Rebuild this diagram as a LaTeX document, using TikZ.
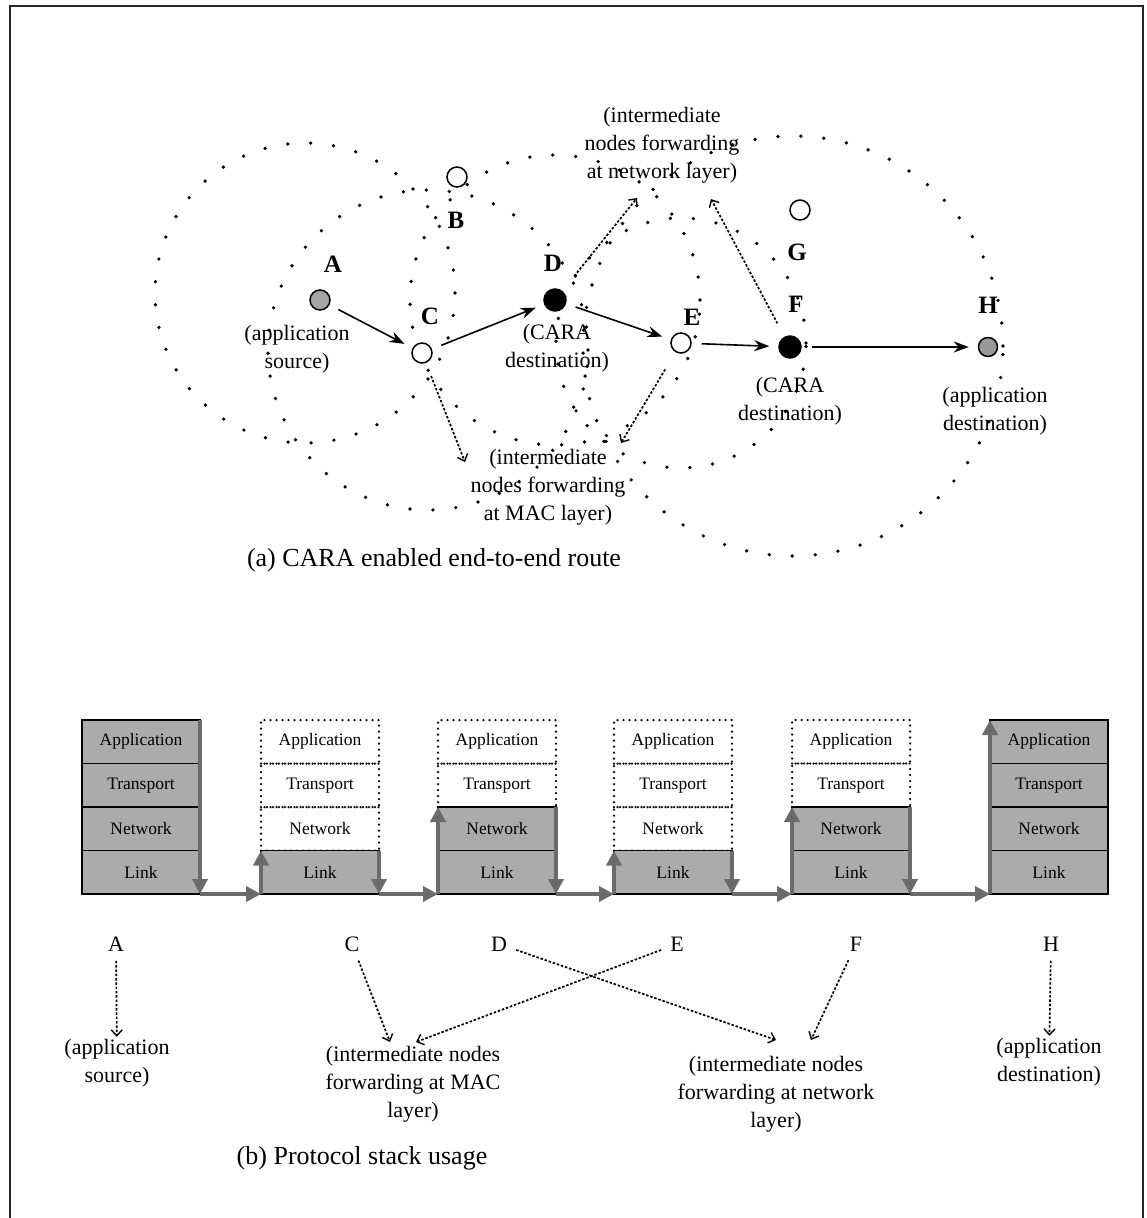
\documentclass[tikz,border=0pt]{standalone}
\usepackage{fontspec}
\setmainfont{Liberation Serif}
\usetikzlibrary{arrows.meta}
\begin{document}
\begin{tikzpicture}[x=1pt,y=-1pt,
  every node/.style={font=\fontsize{22}{28}\selectfont},
  reach/.style={line width=3.7pt, line cap=round, dash pattern=on 0pt off 23pt},
  hostnode/.style={circle, draw=black, line width=1.5pt, minimum size=20pt, inner sep=0pt},
  hosttag/.style={font=\fontsize{25}{28}\selectfont\bfseries},
  notebox/.style={align=center, inner sep=2pt},
  capt/.style={font=\fontsize{26}{30}\selectfont},
  hoparrow/.style={-{Stealth[length=15pt,width=11pt]}, line width=1.6pt, shorten <=10pt, shorten >=9pt},
  hintarrow/.style={-{Straight Barb[length=6pt,width=11pt,line width=1.4pt]}, line width=1.7pt, dash pattern=on 2.5pt off 1.8pt},
  stacklayer/.style={minimum width=118pt, minimum height=43.5pt, inner sep=0pt, outer sep=0pt, anchor=north west, font=\fontsize{17.5}{20}\selectfont},
  usedlayer/.style={stacklayer, draw=black, line width=1.6pt, fill=black!33},
  idlelayer/.style={stacklayer, draw=black, line width=2.5pt, line cap=round, dash pattern=on 0pt off 6pt},
  flowarrow/.style={line width=4pt, draw=black!58, -{Triangle[length=15pt,width=15pt,fill=black!62]}}
]
\useasboundingbox (0,0) rectangle (1146,1218);

% frame
\draw[line width=2.2pt, black!85] (10,1218) -- (10,6) -- (1143,6) -- (1143,1218);

% ---------- (a) radio ranges ----------
\draw[reach] (305,293) circle[radius=150pt];
\draw[reach] (428,350) circle[radius=160pt];
\draw[reach] (555,300) circle[radius=145pt];
\draw[reach] (681,343) circle[radius=125pt];
\draw[reach] (793,346) circle[radius=210pt];

% hosts
\node[hostnode, fill=black!35] (A) at (320,300) {};
\node[hostnode, fill=white] (B) at (457,177) {};
\node[hostnode, fill=white] (C) at (422,353) {};
\node[hostnode, fill=black, minimum size=22pt] (D) at (555,300) {};
\node[hostnode, fill=white] (E) at (681,343) {};
\node[hostnode, fill=black, minimum size=22pt] (F) at (790,347) {};
\node[hostnode, fill=white] (G) at (800,210) {};
\node[hostnode, fill=black!40, minimum size=19pt] (H) at (988,347) {};

% host letters
\node[hosttag] (Atag) at (333,264) {A};
\node[hosttag] (Btag) at (456,220) {B};
\node[hosttag] (Ctag) at (430,316) {C};
\node[hosttag] (Dtag) at (553,263) {D};
\node[hosttag] (Etag) at (692,317) {E};
\node[hosttag] (Ftag) at (796,304) {F};
\node[hosttag] (Gtag) at (797,252) {G};
\node[hosttag] (Htag) at (988,305) {H};

% descriptions
\node[notebox] (srcnote) at (297,349) {(application\\source)};
\node[notebox] (Dnote) at (557,348) {(CARA\\destination)};
\node[notebox] (Fnote) at (790,401) {(CARA\\destination)};
\node[notebox] (Hnote) at (995,411) {(application\\destination)};
\node[notebox] (netnote) at (662,145) {(intermediate\\nodes forwarding\\at network layer)};
\node[notebox] (macnote) at (548,487) {(intermediate\\nodes forwarding\\at MAC layer)};

% route
\draw[hoparrow] (A) -- (C);
\draw[hoparrow] (C) -- (D);
\draw[hoparrow] (D) -- (E);
\draw[hoparrow] (E) -- (F);
\draw[hoparrow] (F) -- (H);

% pointers to the forwarding notes
\coordinate (macL) at (465,462);
\coordinate (macR) at (621,443);
\coordinate (netL) at (637,198);
\coordinate (netR) at (711,199);
\draw[hintarrow, shorten <=14pt] (C) -- (macL);
\draw[hintarrow, shorten <=20pt] (E) -- (macR);
\draw[hintarrow, shorten <=19pt] (D) -- (netL);
\draw[hintarrow, shorten <=15pt] (F) -- (netR);

\node[capt] (capa) at (434,560) {(a) CARA enabled end-to-end route};

% ---------- (b) protocol stacks ----------
% A
\node[usedlayer] (Aapp) at (82,720) {Application};
\node[usedlayer] (Atra) at (82,763.5) {Transport};
\node[usedlayer] (Anet) at (82,807) {Network};
\node[usedlayer] (Alnk) at (82,850.5) {Link};
% C
\node[idlelayer] (Capp) at (261,720) {Application};
\node[idlelayer] (Ctra) at (261,763.5) {Transport};
\node[idlelayer] (Cnet) at (261,807) {Network};
\node[usedlayer] (Clnk) at (261,850.5) {Link};
% D
\node[idlelayer] (Dapp) at (438,720) {Application};
\node[idlelayer] (Dtra) at (438,763.5) {Transport};
\node[usedlayer] (Dnet) at (438,807) {Network};
\node[usedlayer] (Dlnk) at (438,850.5) {Link};
% E
\node[idlelayer] (Eapp) at (614,720) {Application};
\node[idlelayer] (Etra) at (614,763.5) {Transport};
\node[idlelayer] (Enet) at (614,807) {Network};
\node[usedlayer] (Elnk) at (614,850.5) {Link};
% F
\node[idlelayer] (Fapp) at (792,720) {Application};
\node[idlelayer] (Ftra) at (792,763.5) {Transport};
\node[usedlayer] (Fnet) at (792,807) {Network};
\node[usedlayer] (Flnk) at (792,850.5) {Link};
% H
\node[usedlayer] (Happ) at (990,720) {Application};
\node[usedlayer] (Htra) at (990,763.5) {Transport};
\node[usedlayer] (Hnet) at (990,807) {Network};
\node[usedlayer] (Hlnk) at (990,850.5) {Link};

% data path through the stacks
\draw[flowarrow] (Aapp.north east) -- (Alnk.south east);
\draw[flowarrow] (Alnk.south east) -- (Clnk.south west);
\draw[flowarrow] (Clnk.south west) -- (Clnk.north west);
\draw[flowarrow] (Clnk.north east) -- (Clnk.south east);
\draw[flowarrow] (Clnk.south east) -- (Dlnk.south west);
\draw[flowarrow] (Dlnk.south west) -- (Dnet.north west);
\draw[flowarrow] (Dnet.north east) -- (Dlnk.south east);
\draw[flowarrow] (Dlnk.south east) -- (Elnk.south west);
\draw[flowarrow] (Elnk.south west) -- (Elnk.north west);
\draw[flowarrow] (Elnk.north east) -- (Elnk.south east);
\draw[flowarrow] (Elnk.south east) -- (Flnk.south west);
\draw[flowarrow] (Flnk.south west) -- (Fnet.north west);
\draw[flowarrow] (Fnet.north east) -- (Flnk.south east);
\draw[flowarrow] (Flnk.south east) -- (Hlnk.south west);
\draw[flowarrow] (Hlnk.south west) -- (Happ.north west);

% stack names
\node (bA) at (116,944) {A};
\node (bC) at (352,944) {C};
\node (bD) at (499,944) {D};
\node (bE) at (677,944) {E};
\node (bF) at (856,944) {F};
\node (bH) at (1051,944) {H};

\node[notebox] (srcb) at (117,1063) {(application\\source)};
\node[notebox] (macb) at (413,1084) {(intermediate nodes\\forwarding at MAC\\layer)};
\node[notebox] (netb) at (776,1094) {(intermediate nodes\\forwarding at network\\layer)};
\node[notebox] (dstb) at (1049,1062) {(application\\destination)};

\coordinate (macbL) at (390,1042);
\coordinate (macbR) at (416,1042);
\coordinate (netbL) at (776,1040);
\coordinate (netbR) at (811,1040);
\draw[hintarrow, shorten <=6pt] (bA) -- (srcb);
\draw[hintarrow, shorten <=6pt] (bH) -- (dstb);
\draw[hintarrow, shorten <=6pt] (bC) -- (macbL);
\draw[hintarrow, shorten <=6pt] (bE) -- (macbR);
\draw[hintarrow, shorten <=6pt] (bD) -- (netbL);
\draw[hintarrow, shorten <=6pt] (bF) -- (netbR);

\node[capt] (capb) at (362,1158) {(b) Protocol stack usage};
\end{tikzpicture}
\end{document}
